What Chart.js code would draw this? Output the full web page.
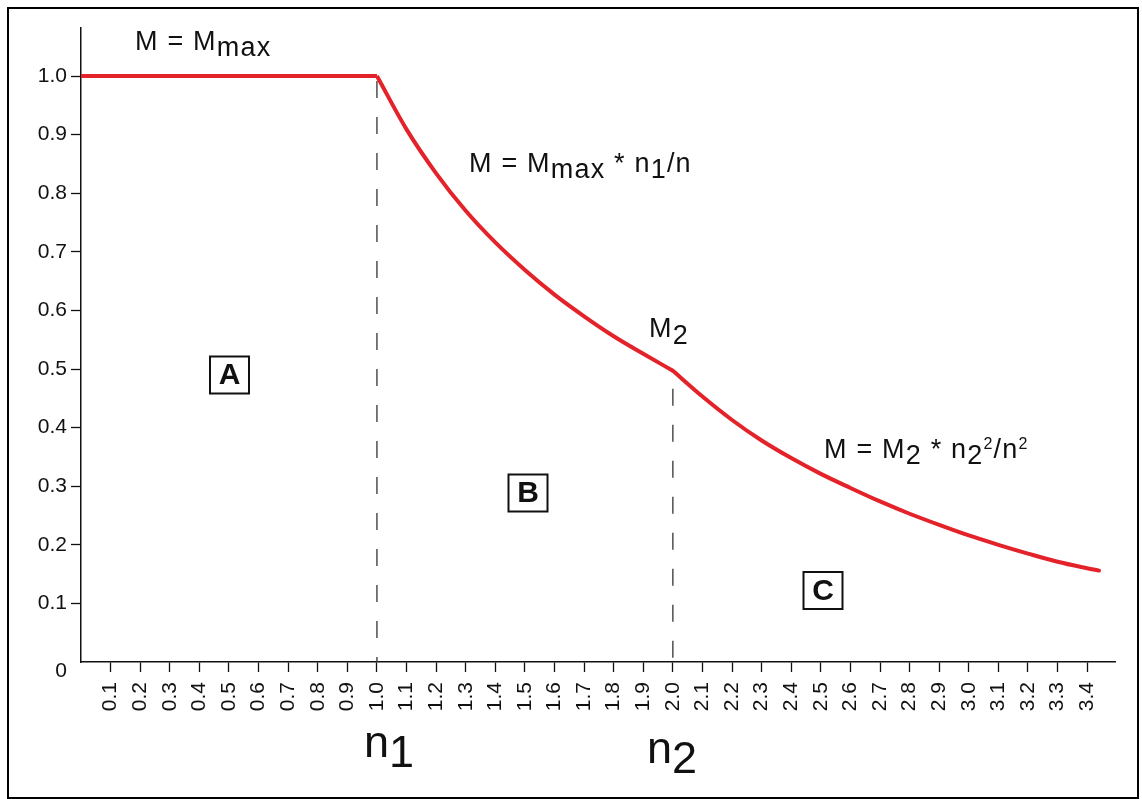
<!DOCTYPE html>
<html><head><meta charset="utf-8">
<script src="https://cdn.jsdelivr.net/npm/chart.js@4.4.1/dist/chart.umd.min.js"></script>
<style>html,body{margin:0;padding:0;background:#fff;}canvas{display:block;}</style>
</head><body>
<canvas id="c" width="1142" height="799"></canvas>
<script>
// ---- data ----
const xTickValues = [0.1,0.2,0.3,0.4,0.5,0.6,0.7,0.8,0.9,1.0,1.1,1.2,1.3,1.4,1.5,1.6,1.7,1.8,1.9,2.0,2.1,2.2,2.3,2.4,2.5,2.6,2.7,2.8,2.9,3.0,3.1,3.2,3.3,3.4];
const yTickValues = [0,0.1,0.2,0.3,0.4,0.5,0.6,0.7,0.8,0.9,1.0];
// region A: constant M = Mmax
const nA = [0, 1.0];
const mA = [1.0, 1.0];
// region B: M = Mmax * n1/n
const nB = [1.0,1.1,1.2,1.3,1.4,1.5,1.6,1.7,1.8,1.9,2.0];
const mB = [1.0,0.909,0.834,0.770,0.716,0.669,0.627,0.590,0.556,0.526,0.497];
// region C: M = M2 * n2^2/n^2
const nC = [2.0,2.1,2.2,2.3,2.4,2.5,2.6,2.7,2.8,2.9,3.0,3.1,3.2,3.3,3.4,3.44];
const mC = [0.497,0.453,0.413,0.378,0.348,0.321,0.297,0.274,0.253,0.234,0.216,0.200,0.185,0.171,0.160,0.156];
// marker lines
const n1 = 1.0, n2 = 2.0, mMax = 1.0, m2 = 0.497;

const RED = '#e4222a';
const INK = '#111';
const FONT = "'Liberation Sans', Arial, Helvetica, sans-serif";
Chart.defaults.font.family = FONT;
Chart.defaults.color = INK;

const pts = (xs, ys) => xs.map((x, i) => ({x, y: ys[i]}));

function runs(ctx, x, y, parts, spacing) {
  let cx = x;
  ctx.letterSpacing = (spacing || 0) + 'px';
  for (const p of parts) {
    ctx.font = (p.bold ? 'bold ' : '') + p.size + 'px ' + FONT;
    ctx.fillText(p.t, cx, y + (p.dy || 0));
    cx += ctx.measureText(p.t).width;
  }
  ctx.letterSpacing = '0px';
}
function boxed(ctx, cx, cy, w, h, letter) {
  ctx.lineWidth = 2;
  ctx.strokeStyle = INK;
  ctx.strokeRect(cx - w / 2, cy - h / 2, w, h);
  ctx.font = 'bold 30px ' + FONT;
  ctx.textAlign = 'center';
  ctx.textBaseline = 'middle';
  ctx.fillText(letter, cx, cy + 1);
  ctx.textAlign = 'left';
  ctx.textBaseline = 'alphabetic';
}

const annot = {
  id: 'annot',
  afterDraw(chart) {
    const ctx = chart.ctx;
    ctx.save();
    ctx.fillStyle = INK;
    ctx.textAlign = 'left';
    ctx.textBaseline = 'alphabetic';
    const S = 27, L = 1.2;
    runs(ctx, 135, 50, [{t:'M = M', size:S}, {t:'max', size:S, dy:6}], L);
    runs(ctx, 469, 172, [{t:'M = M', size:S}, {t:'max', size:S, dy:6}, {t:' * n', size:S}, {t:'1', size:S, dy:6}, {t:'/n', size:S}], L);
    runs(ctx, 649, 337, [{t:'M', size:S}, {t:'2', size:S, dy:7}], L);
    runs(ctx, 824, 458, [{t:'M = M', size:S}, {t:'2', size:S, dy:6}, {t:' * n', size:S}, {t:'2', size:S, dy:6}, {t:'2', size:16, dy:-9}, {t:'/n', size:S}, {t:'2', size:16, dy:-9}], L);
    runs(ctx, 364, 757, [{t:'n', size:45}, {t:'1', size:45, dy:10}], 0);
    runs(ctx, 647, 763, [{t:'n', size:45}, {t:'2', size:45, dy:10}], 0);
    boxed(ctx, 229.5, 375, 39, 37, 'A');
    boxed(ctx, 528, 493, 39, 37, 'B');
    boxed(ctx, 823, 590.5, 39, 37, 'C');
    // outer frame
    ctx.lineWidth = 2;
    ctx.strokeStyle = '#000';
    ctx.strokeRect(8, 8, 1130, 790);
    ctx.restore();
  }
};

const white = {
  id: 'white',
  beforeDraw(chart) {
    const c = chart.ctx; c.save(); c.fillStyle = '#fff'; c.fillRect(0, 0, chart.width, chart.height); c.restore();
  }
};

new Chart(document.getElementById('c'), {
  type: 'line',
  data: {
    datasets: [
      {data: pts(nA, mA), borderColor: RED, borderWidth: 4, pointRadius: 0, tension: 0, order: 0},
      {data: pts(nB, mB), borderColor: RED, borderWidth: 4, pointRadius: 0, cubicInterpolationMode: 'monotone', order: 0},
      {data: pts(nC, mC), borderColor: RED, borderWidth: 4, pointRadius: 0, cubicInterpolationMode: 'monotone', borderCapStyle: 'round', order: 0},
      {data: [{x: n1, y: mMax}, {x: n1, y: 0}], borderColor: '#333', borderWidth: 1.3, borderDash: [17, 19], borderDashOffset: -5, pointRadius: 0, order: 1},
      {data: [{x: n2, y: m2}, {x: n2, y: 0}], borderColor: '#333', borderWidth: 1.3, borderDash: [17, 19], borderDashOffset: -18, pointRadius: 0, order: 1}
    ]
  },
  options: {
    responsive: false,
    animation: false,
    devicePixelRatio: 1,
    layout: {padding: {top: 28, right: 27, left: 0, bottom: 0}},
    plugins: {legend: {display: false}, tooltip: {enabled: false}},
    scales: {
      x: {
        type: 'linear', min: 0, max: 3.494,
        afterBuildTicks: s => { s.ticks = xTickValues.map(v => ({value: v})); },
        afterFit: s => { s.height = 137; },
        grid: {drawOnChartArea: false, drawTicks: true, tickLength: 10, tickColor: INK, tickWidth: 1.3},
        border: {display: true, color: INK, width: 1.5},
        ticks: {autoSkip: false, minRotation: 90, maxRotation: 90, padding: 10, color: INK,
          font: {size: 21}, callback: v => Number(v).toFixed(1)}
      },
      y: {
        type: 'linear', min: 0, max: 1.082,
        afterBuildTicks: s => { s.ticks = yTickValues.map(v => ({value: v})); },
        afterFit: s => { s.width = 81; },
        grid: {drawOnChartArea: false, drawTicks: true, tickLength: 10, tickWidth: 1.3,
          tickColor: c => (c.tick && c.tick.value === 0) ? 'rgba(0,0,0,0)' : INK},
        border: {display: true, color: INK, width: 1.5},
        ticks: {padding: 4, color: INK,
          font: c => ({size: 21, lineHeight: (c.tick && c.tick.value === 0) ? 0.9 : 1.2}),
          callback: v => v === 0 ? ['', '0'] : Number(v).toFixed(1)}
      }
    }
  },
  plugins: [white, annot]
});
</script>
</body></html>
